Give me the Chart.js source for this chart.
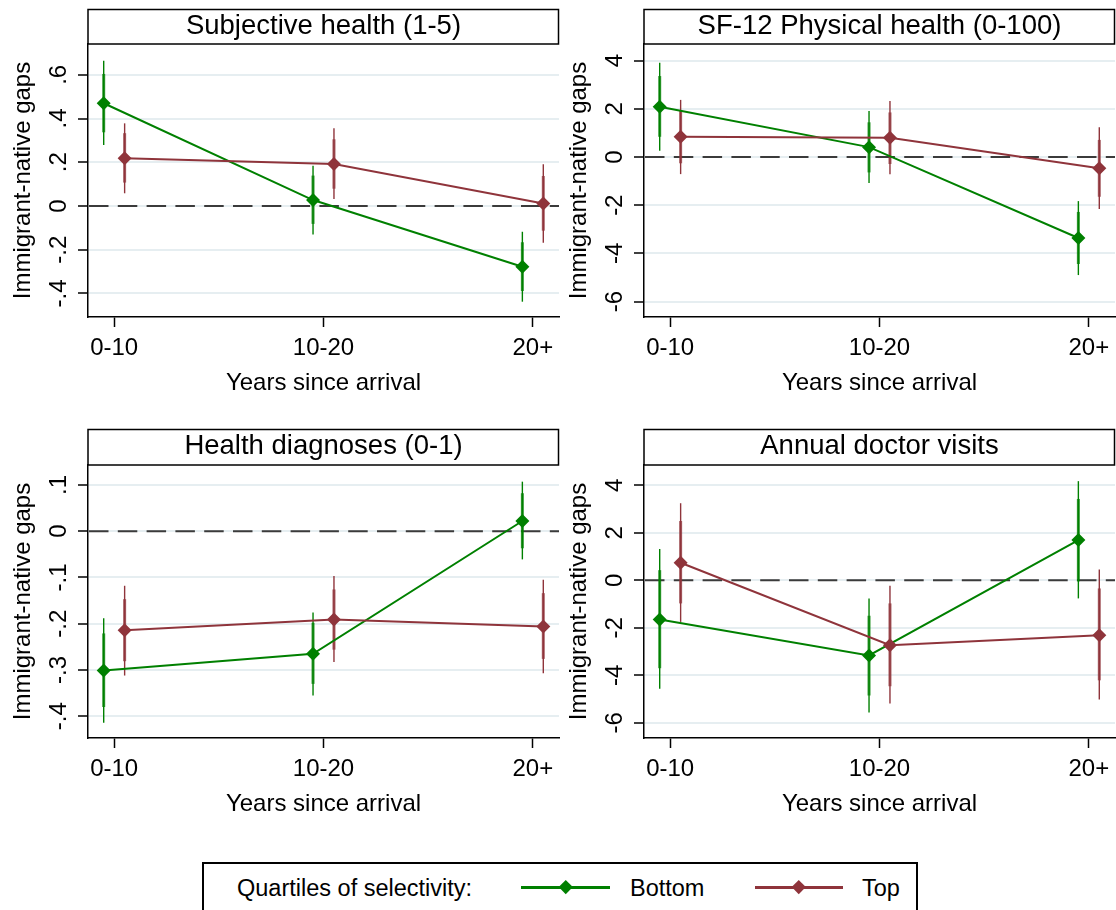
<!DOCTYPE html>
<html>
<head>
<meta charset="utf-8">
<title>Immigrant-native gaps by years since arrival</title>
<script src="https://cdn.jsdelivr.net/npm/chart.js@4.4.1/dist/chart.umd.min.js"></script>
<style>
  html, body { margin: 0; padding: 0; background: #fff; }
  body { width: 1116px; height: 910px; position: relative; overflow: hidden;
         font-family: "Liberation Sans", Arial, sans-serif; }
  canvas.panel { position: absolute; }
  #legend { position: absolute; left: 202px; top: 862px; width: 716px; height: 70px;
            border: 2px solid #000; box-sizing: border-box; background: #fff; }
  #legend .txt { position: absolute; top: 9.5px; font-size: 23.5px; line-height: 28px; color: #000; white-space: nowrap; }
  #legend .ln { position: absolute; top: 21.5px; height: 3px; }
  #legend .dm { position: absolute; top: 18px; width: 9.5px; height: 9.5px; transform: rotate(45deg); }
</style>
</head>
<body>
<canvas id="panel0" class="panel" width="560" height="420" style="left:0px;top:0px"></canvas>
<canvas id="panel1" class="panel" width="560" height="420" style="left:556px;top:0px"></canvas>
<canvas id="panel2" class="panel" width="560" height="420" style="left:0px;top:420px"></canvas>
<canvas id="panel3" class="panel" width="560" height="420" style="left:556px;top:420px"></canvas>

<div id="legend">
  <span class="txt" style="left:33px">Quartiles of selectivity:</span>
  <div class="ln" style="left:317px;width:89px;background:#008000"></div>
  <div class="dm" style="left:357px;background:#008000"></div>
  <span class="txt" style="left:426px">Bottom</span>
  <div class="ln" style="left:551px;width:88px;background:#8f343b"></div>
  <div class="dm" style="left:590px;background:#8f343b"></div>
  <span class="txt" style="left:658px">Top</span>
</div>

<script>
// ---- categories and labels ----
const categories = ['0-10', '10-20', '20+'];
const panelTitles = ['Subjective health (1-5)', 'SF-12 Physical health (0-100)',
                     'Health diagnoses (0-1)', 'Annual doctor visits'];
const yAxisTitle = 'Immigrant-native gaps';
const xAxisTitle = 'Years since arrival';

// ---- Subjective health (1-5) ----
const subjTicks = [-0.4, -0.2, 0, 0.2, 0.4, 0.6];
const subjTickLabels = ['-.4', '-.2', '0', '.2', '.4', '.6'];
const subjBottomEst = [0.47, 0.027, -0.278];
const subjBottomWide = [[0.279, 0.664], [-0.130, 0.184], [-0.438, -0.118]];
const subjBottomNarrow = [[0.337, 0.604], [-0.082, 0.139], [-0.389, -0.166]];
const subjTopEst = [0.218, 0.192, 0.011];
const subjTopWide = [[0.058, 0.378], [0.032, 0.356], [-0.168, 0.191]];
const subjTopNarrow = [[0.107, 0.333], [0.079, 0.305], [-0.113, 0.137]];

// ---- SF-12 Physical health (0-100) ----
const sf12Ticks = [-6, -4, -2, 0, 2, 4];
const sf12TickLabels = ['-6', '-4', '-2', '0', '2', '4'];
const sf12BottomEst = [2.09, 0.41, -3.36];
const sf12BottomWide = [[0.26, 3.91], [-1.08, 1.91], [-4.90, -1.83]];
const sf12BottomNarrow = [[0.84, 3.36], [-0.64, 1.44], [-4.44, -2.28]];
const sf12TopEst = [0.84, 0.80, -0.47];
const sf12TopWide = [[-0.71, 2.37], [-0.72, 2.32], [-2.16, 1.23]];
const sf12TopNarrow = [[-0.26, 1.95], [-0.29, 1.85], [-1.65, 0.71]];

// ---- Health diagnoses (0-1) ----
const diagTicks = [-0.4, -0.3, -0.2, -0.1, 0, 0.1];
const diagTickLabels = ['-.4', '-.3', '-.2', '-.1', '0', '.1'];
const diagBottomEst = [-0.301, -0.265, 0.022];
const diagBottomWide = [[-0.414, -0.188], [-0.355, -0.176], [-0.061, 0.107]];
const diagBottomNarrow = [[-0.380, -0.221], [-0.330, -0.198], [-0.037, 0.082]];
const diagTopEst = [-0.214, -0.191, -0.206];
const diagTopWide = [[-0.312, -0.118], [-0.283, -0.097], [-0.307, -0.105]];
const diagTopNarrow = [[-0.281, -0.147], [-0.256, -0.126], [-0.276, -0.134]];

// ---- Annual doctor visits ----
const docTicks = [-6, -4, -2, 0, 2, 4];
const docTickLabels = ['-6', '-4', '-2', '0', '2', '4'];
const docBottomEst = [-1.65, -3.16, 1.70];
const docBottomWide = [[-4.57, 1.32], [-5.57, -0.76], [-0.76, 4.18]];
const docBottomNarrow = [[-3.70, 0.43], [-4.85, -1.49], [-0.04, 3.43]];
const docTopEst = [0.74, -2.73, -2.31];
const docTopWide = [[-1.75, 3.25], [-5.19, -0.23], [-5.02, 0.46]];
const docTopNarrow = [[-0.97, 2.50], [-4.46, -0.97], [-4.21, -0.34]];

// ---- styling ----
const GREEN = '#008000';
const GREEN_SOFT = 'rgba(0,128,0,0.78)';
const RED = '#8f343b';
const RED_SOFT = 'rgba(143,52,59,0.78)';
const FONT = '"Liberation Sans", Arial, sans-serif';
const DODGE = 0.05;            // horizontal shift of the two series around each category
const X_MIN = 0.875, X_MAX = 3.125;

const panels = [
  { title: panelTitles[0], ticks: subjTicks, tickLabels: subjTickLabels, yMin: -0.508, yMax: 0.741, top: 44,
    bottom: { est: subjBottomEst, wide: subjBottomWide, narrow: subjBottomNarrow },
    upper: { est: subjTopEst, wide: subjTopWide, narrow: subjTopNarrow } },
  { title: panelTitles[1], ticks: sf12Ticks, tickLabels: sf12TickLabels, yMin: -6.64, yMax: 4.69, top: 44,
    bottom: { est: sf12BottomEst, wide: sf12BottomWide, narrow: sf12BottomNarrow },
    upper: { est: sf12TopEst, wide: sf12TopWide, narrow: sf12TopNarrow } },
  { title: panelTitles[2], ticks: diagTicks, tickLabels: diagTickLabels, yMin: -0.447, yMax: 0.143, top: 45,
    bottom: { est: diagBottomEst, wide: diagBottomWide, narrow: diagBottomNarrow },
    upper: { est: diagTopEst, wide: diagTopWide, narrow: diagTopNarrow } },
  { title: panelTitles[3], ticks: docTicks, tickLabels: docTickLabels, yMin: -6.64, yMax: 4.86, top: 45,
    bottom: { est: docBottomEst, wide: docBottomWide, narrow: docBottomNarrow },
    upper: { est: docTopEst, wide: docTopWide, narrow: docTopNarrow } }
];

// Zero reference line, title box, tick labels and axis titles
const decor = {
  id: 'decor',
  beforeDatasetsDraw(chart, args, opts) {
    const { ctx, chartArea: a, scales: { y } } = chart;
    const yz = y.getPixelForValue(0);
    ctx.save();
    ctx.strokeStyle = '#3b3b3b';
    ctx.lineWidth = 2;
    ctx.setLineDash([19.5, 9.3]);
    ctx.beginPath();
    ctx.moveTo(a.left + 1, yz);
    ctx.lineTo(a.right, yz);
    ctx.stroke();
    ctx.restore();
  },
  afterDraw(chart, args, opts) {
    const { ctx, chartArea: a, scales: { x, y } } = chart;
    ctx.save();
    ctx.fillStyle = '#000';
    ctx.strokeStyle = '#000';

    // title box
    ctx.lineWidth = 1.5;
    ctx.strokeRect(a.left, 9.5, a.right - a.left - 0.5, a.top - 9.5);
    ctx.font = '27.5px ' + FONT;
    ctx.textAlign = 'center';
    ctx.textBaseline = 'alphabetic';
    ctx.fillText(opts.title, (a.left + a.right) / 2, 33.5);

    // y tick labels, rotated
    ctx.font = '24px ' + FONT;
    ctx.textBaseline = 'middle';
    y.ticks.forEach((t, i) => {
      const py = y.getPixelForValue(t.value);
      ctx.save();
      ctx.translate(59, py);
      ctx.rotate(-Math.PI / 2);
      ctx.fillText(opts.tickLabels[i], 0, 0);
      ctx.restore();
    });

    // x tick labels
    ctx.textBaseline = 'alphabetic';
    categories.forEach((c, i) => {
      ctx.fillText(c, x.getPixelForValue(i + 1), a.bottom + 37.5);
    });

    // axis titles
    ctx.fillText(xAxisTitle, (a.left + a.right) / 2, a.bottom + 73);
    ctx.save();
    ctx.translate(30, (a.top + a.bottom) / 2);
    ctx.rotate(-Math.PI / 2);
    ctx.fillText(yAxisTitle, 0, 0);
    ctx.restore();

    ctx.restore();
  }
};

function buildDatasets(p) {
  const ds = [];
  const series = [
    { s: p.bottom, color: GREEN, soft: GREEN_SOFT, shift: -DODGE, order: 1 },
    { s: p.upper, color: RED, soft: RED_SOFT, shift: DODGE, order: 0 }
  ];
  series.forEach(({ s, color, soft, shift }) => {
    s.wide.forEach((r, i) => ds.push({
      data: [{ x: i + 1 + shift, y: r[0] }, { x: i + 1 + shift, y: r[1] }],
      borderColor: color, borderWidth: 1.4, pointRadius: 0, order: 4
    }));
    s.narrow.forEach((r, i) => ds.push({
      data: [{ x: i + 1 + shift, y: r[0] }, { x: i + 1 + shift, y: r[1] }],
      borderColor: soft, borderWidth: 3, pointRadius: 0, order: 3
    }));
  });
  series.forEach(({ s, color, shift, order }) => ds.push({
    data: s.est.map((v, i) => ({ x: i + 1 + shift, y: v })),
    borderColor: color, borderWidth: 2,
    pointStyle: 'rectRot', pointRadius: 7,
    pointBackgroundColor: color, pointBorderColor: color, pointBorderWidth: 0,
    order: order
  }));
  return ds;
}

panels.forEach((p, k) => {
  new Chart(document.getElementById('panel' + k), {
    type: 'line',
    data: { datasets: buildDatasets(p) },
    plugins: [decor],
    options: {
      responsive: false,
      animation: false,
      devicePixelRatio: 1,
      events: [],
      layout: { autoPadding: false, padding: { top: p.top, right: 1, left: 0, bottom: 0 } },
      elements: { line: { tension: 0 } },
      plugins: {
        legend: { display: false },
        tooltip: { enabled: false },
        decor: { title: p.title, tickLabels: p.tickLabels }
      },
      scales: {
        x: {
          type: 'linear', min: X_MIN, max: X_MAX,
          afterBuildTicks: sc => { sc.ticks = categories.map((c, i) => ({ value: i + 1 })); },
          afterFit: sc => { sc.height = 420 - 317 - (p.top - 44); },
          ticks: { display: false },
          grid: { display: true, drawOnChartArea: false, drawTicks: true,
                  tickLength: 10, tickColor: '#000', tickWidth: 1.5 },
          border: { display: true, color: '#000', width: 1.5 }
        },
        y: {
          type: 'linear', min: p.yMin, max: p.yMax,
          afterBuildTicks: sc => { sc.ticks = p.ticks.map(v => ({ value: v })); },
          afterFit: sc => { sc.width = 88; },
          ticks: { display: false },
          grid: { display: true, drawOnChartArea: true, color: '#e6eef1', lineWidth: 2,
                  drawTicks: true, tickLength: 10, tickColor: '#000', tickWidth: 1.5 },
          border: { display: true, color: '#000', width: 1.5 }
        }
      }
    }
  });
});
</script>
</body>
</html>
